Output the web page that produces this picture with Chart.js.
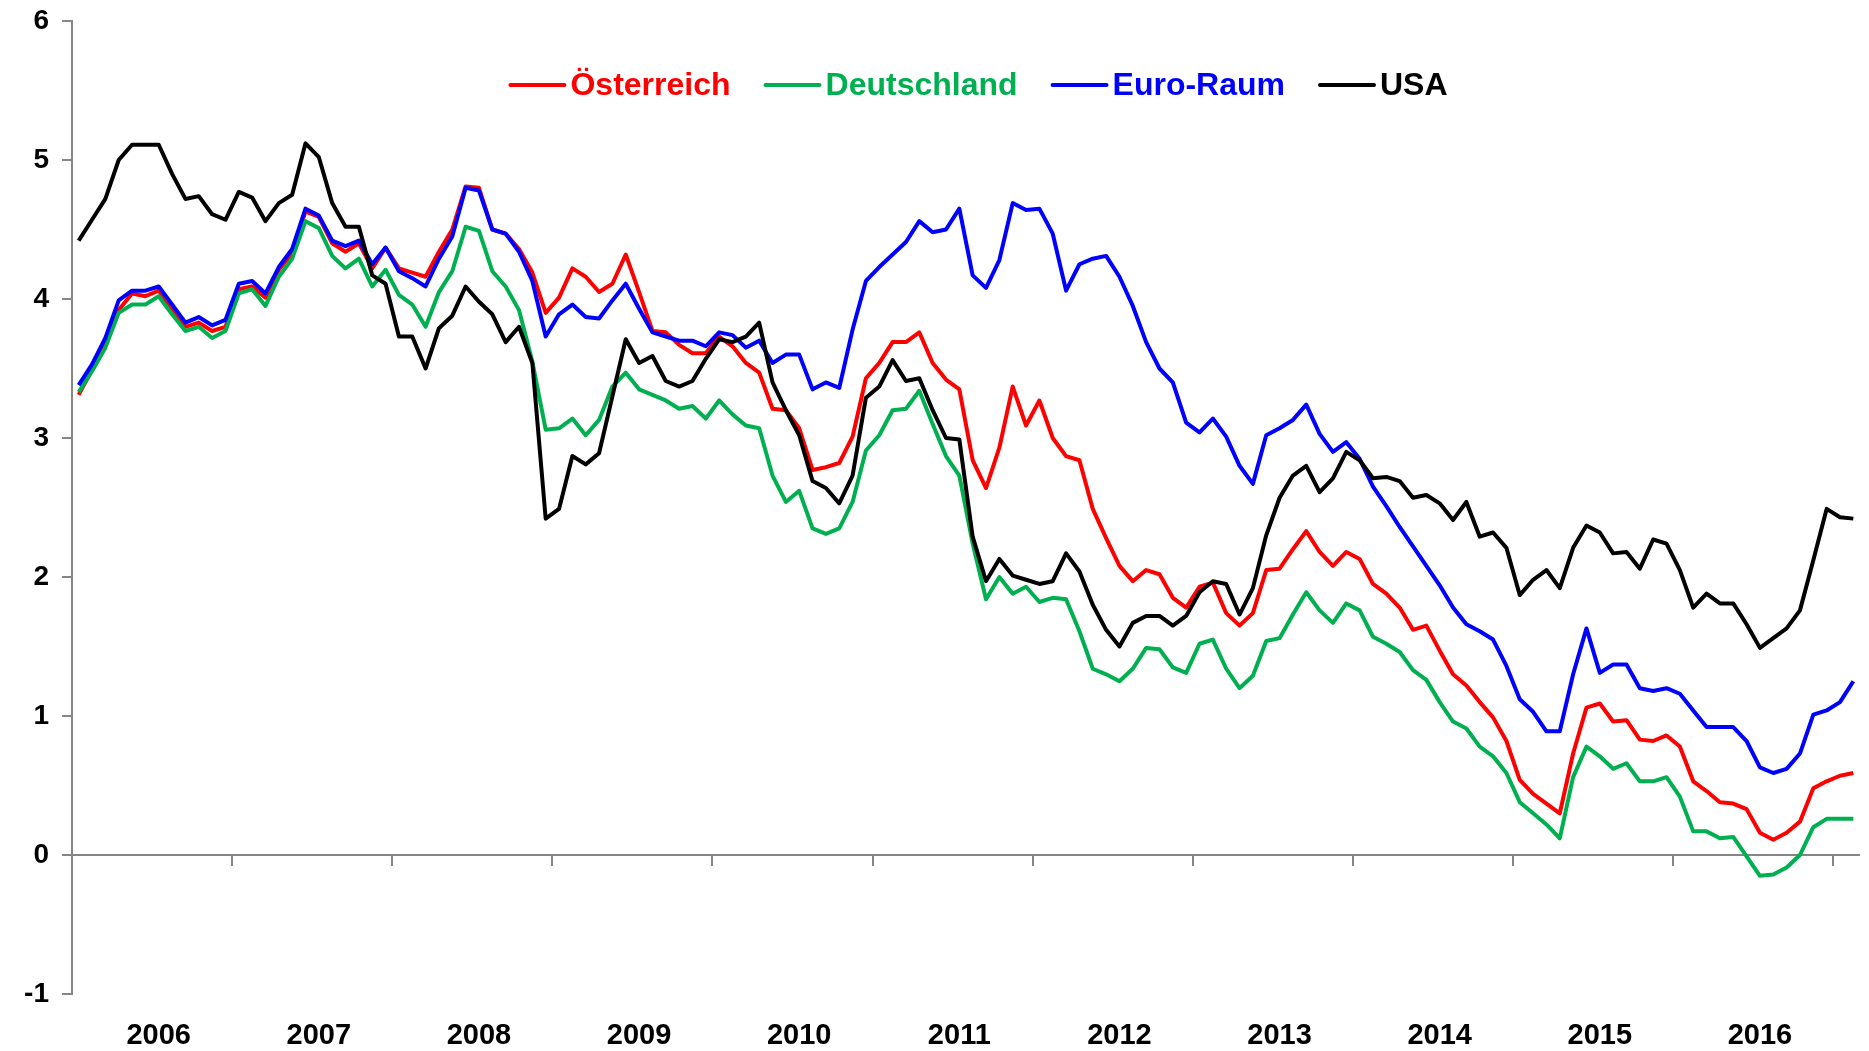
<!DOCTYPE html>
<html>
<head>
<meta charset="utf-8">
<script src="https://cdn.jsdelivr.net/npm/chart.js@4.4.1/dist/chart.umd.min.js"></script>
<style>
  html, body { margin: 0; padding: 0; background: #fff; }
</style>
</head>
<body>
<canvas id="myChart" width="1869" height="1051"></canvas>
<script>
// monthly values, Jan 2006 - Feb 2017
const YEARS = ['2006', '2007', '2008', '2009', '2010', '2011', '2012', '2013', '2014', '2015', '2016', '2017'];
const MONTHS_2017 = 2;

const AUSTRIA = [
    3.31, 3.49, 3.68, 3.92, 4.04, 4.02, 4.06, 3.93, 3.80, 3.83, 3.77, 3.80,
    4.07, 4.09, 4.01, 4.21, 4.33, 4.63, 4.59, 4.40, 4.34, 4.40, 4.22, 4.37,
    4.22, 4.19, 4.16, 4.34, 4.50, 4.81, 4.80, 4.50, 4.47, 4.36, 4.19, 3.90,
    4.01, 4.22, 4.16, 4.05, 4.11, 4.32, 4.05, 3.77, 3.76, 3.67, 3.61, 3.61,
    3.73, 3.66, 3.54, 3.47, 3.21, 3.20, 3.07, 2.77, 2.79, 2.82, 3.01, 3.43,
    3.54, 3.69, 3.69, 3.76, 3.54, 3.42, 3.35, 2.84, 2.64, 2.93, 3.37, 3.09,
    3.27, 3.00, 2.87, 2.84, 2.49, 2.28, 2.08, 1.97, 2.05, 2.02, 1.85, 1.78,
    1.93, 1.96, 1.74, 1.65, 1.74, 2.05, 2.06, 2.20, 2.33, 2.18, 2.08, 2.18,
    2.13, 1.95, 1.88, 1.78, 1.62, 1.65, 1.47, 1.30, 1.22, 1.10, 0.99, 0.82,
    0.54, 0.44, 0.37, 0.30, 0.73, 1.06, 1.09, 0.96, 0.97, 0.83, 0.82, 0.86,
    0.78, 0.53, 0.46, 0.38, 0.37, 0.33, 0.16, 0.11, 0.16, 0.24, 0.48, 0.53,
    0.57, 0.59
];
const GERMANY = [
    3.33, 3.48, 3.65, 3.90, 3.96, 3.96, 4.02, 3.89, 3.77, 3.80, 3.72, 3.77,
    4.04, 4.07, 3.95, 4.16, 4.29, 4.56, 4.51, 4.31, 4.22, 4.29, 4.09, 4.21,
    4.03, 3.96, 3.80, 4.05, 4.20, 4.52, 4.49, 4.20, 4.09, 3.92, 3.55, 3.06,
    3.07, 3.14, 3.02, 3.13, 3.37, 3.47, 3.35, 3.31, 3.27, 3.21, 3.23, 3.14,
    3.27, 3.17, 3.09, 3.07, 2.73, 2.54, 2.62, 2.35, 2.31, 2.35, 2.54, 2.91,
    3.02, 3.20, 3.21, 3.34, 3.10, 2.87, 2.73, 2.24, 1.84, 2.00, 1.88, 1.93,
    1.82, 1.85, 1.84, 1.61, 1.34, 1.30, 1.25, 1.34, 1.49, 1.48, 1.35, 1.31,
    1.52, 1.55, 1.34, 1.20, 1.29, 1.54, 1.56, 1.73, 1.89, 1.76, 1.67, 1.81,
    1.76, 1.57, 1.52, 1.46, 1.33, 1.26, 1.10, 0.96, 0.91, 0.78, 0.71, 0.59,
    0.38, 0.30, 0.22, 0.12, 0.56, 0.78, 0.71, 0.62, 0.66, 0.53, 0.53, 0.56,
    0.42, 0.17, 0.17, 0.12, 0.13, -0.01, -0.15, -0.14, -0.09, 0.00, 0.20, 0.26,
    0.26, 0.26
];
const EURO_AREA = [
    3.38, 3.53, 3.72, 3.99, 4.06, 4.06, 4.09, 3.96, 3.83, 3.87, 3.81, 3.85,
    4.11, 4.13, 4.04, 4.23, 4.36, 4.65, 4.60, 4.42, 4.38, 4.42, 4.25, 4.37,
    4.20, 4.15, 4.09, 4.29, 4.45, 4.80, 4.78, 4.50, 4.47, 4.34, 4.13, 3.73,
    3.89, 3.96, 3.87, 3.86, 3.99, 4.11, 3.93, 3.76, 3.73, 3.70, 3.70, 3.66,
    3.76, 3.74, 3.65, 3.70, 3.54, 3.60, 3.60, 3.35, 3.40, 3.36, 3.78, 4.13,
    4.23, 4.32, 4.41, 4.56, 4.48, 4.50, 4.65, 4.17, 4.08, 4.28, 4.69, 4.64,
    4.65, 4.47, 4.06, 4.25, 4.29, 4.31, 4.16, 3.95, 3.69, 3.50, 3.40, 3.11,
    3.04, 3.14, 3.01, 2.80, 2.67, 3.02, 3.07, 3.13, 3.24, 3.03, 2.90, 2.97,
    2.85, 2.65, 2.51, 2.36, 2.22, 2.08, 1.94, 1.78, 1.66, 1.61, 1.55, 1.36,
    1.12, 1.03, 0.89, 0.89, 1.30, 1.63, 1.31, 1.37, 1.37, 1.20, 1.18, 1.20,
    1.16, 1.04, 0.92, 0.92, 0.92, 0.82, 0.63, 0.59, 0.62, 0.73, 1.01, 1.04,
    1.10, 1.25
];
const USA = [
    4.42, 4.57, 4.72, 5.00, 5.11, 5.11, 5.11, 4.90, 4.72, 4.74, 4.61, 4.57,
    4.77, 4.73, 4.56, 4.69, 4.75, 5.12, 5.02, 4.69, 4.52, 4.52, 4.17, 4.11,
    3.73, 3.73, 3.50, 3.79, 3.88, 4.09, 3.98, 3.89, 3.69, 3.80, 3.54, 2.42,
    2.49, 2.87, 2.81, 2.89, 3.30, 3.71, 3.54, 3.59, 3.41, 3.37, 3.41, 3.57,
    3.71, 3.69, 3.73, 3.83, 3.40, 3.20, 3.02, 2.69, 2.64, 2.53, 2.73, 3.29,
    3.37, 3.56, 3.41, 3.43, 3.20, 3.00, 2.99, 2.29, 1.97, 2.13, 2.01, 1.98,
    1.95, 1.97, 2.17, 2.04, 1.80, 1.62, 1.50, 1.67, 1.72, 1.72, 1.65, 1.72,
    1.89, 1.97, 1.95, 1.73, 1.92, 2.30, 2.57, 2.73, 2.80, 2.61, 2.71, 2.90,
    2.84, 2.71, 2.72, 2.69, 2.57, 2.59, 2.53, 2.41, 2.54, 2.29, 2.32, 2.21,
    1.87, 1.98, 2.05, 1.92, 2.21, 2.37, 2.32, 2.17, 2.18, 2.06, 2.27, 2.24,
    2.05, 1.78, 1.88, 1.81, 1.81, 1.66, 1.49, 1.56, 1.63, 1.76, 2.12, 2.49,
    2.43, 2.42
];

const SERIES_NAMES  = ['Österreich', 'Deutschland', 'Euro-Raum', 'USA'];
const SERIES_COLORS = ['#ff0000', '#00b050', '#0000ff', '#000000'];

const Y_MIN = -1, Y_MAX = 6, Y_STEP = 1;

const AXIS_COLOR = '#868686';
const FONT = '"Liberation Sans", Arial, sans-serif';

// one category per month
const labels = [];
YEARS.forEach((y, yi) => {
    const n = yi === YEARS.length - 1 ? MONTHS_2017 : 12;
    for (let m = 1; m <= n; m++) labels.push(y + '-' + String(m).padStart(2, '0'));
});

// zero line with year tick marks (axis crosses at 0, labels sit at the bottom)
const zeroAxis = {
    id: 'zeroAxis',
    beforeDatasetsDraw(chart) {
        const { ctx, chartArea, scales: { x, y } } = chart;
        const y0 = Math.round(y.getPixelForValue(0));
        ctx.save();
        ctx.strokeStyle = AXIS_COLOR;
        ctx.lineWidth = 2;
        ctx.beginPath();
        ctx.moveTo(chartArea.left, y0);
        ctx.lineTo(chartArea.right, y0);
        for (let k = 12; k < labels.length; k += 12) {
            const xp = Math.round((x.getPixelForValue(k - 1) + x.getPixelForValue(k)) / 2);
            ctx.moveTo(xp, y0);
            ctx.lineTo(xp, y0 + 11);
        }
        ctx.stroke();
        ctx.restore();
    }
};

// legend drawn inside the plot, line sample + coloured text
const innerLegend = {
    id: 'innerLegend',
    afterDraw(chart) {
        const { ctx } = chart;
        const lineLen = 54, gapLine = 6, gapItem = 35;
        const cx = 979, cy = 85;
        ctx.save();
        ctx.font = 'bold 32px ' + FONT;
        ctx.textBaseline = 'middle';
        const widths = SERIES_NAMES.map(n => ctx.measureText(n).width);
        const total = widths.reduce((a, w) => a + lineLen + gapLine + w, 0) + gapItem * (SERIES_NAMES.length - 1);
        let xp = cx - total / 2;
        SERIES_NAMES.forEach((name, i) => {
            ctx.strokeStyle = SERIES_COLORS[i];
            ctx.lineWidth = 4;
            ctx.lineCap = 'round';
            ctx.beginPath();
            ctx.moveTo(xp, cy);
            ctx.lineTo(xp + lineLen, cy);
            ctx.stroke();
            xp += lineLen + gapLine;
            ctx.fillStyle = SERIES_COLORS[i];
            ctx.fillText(name, xp, cy + 1);
            xp += widths[i] + gapItem;
        });
        ctx.restore();
    }
};

const seriesData = [AUSTRIA, GERMANY, EURO_AREA, USA];

new Chart(document.getElementById('myChart'), {
    type: 'line',
    data: {
        labels: labels,
        datasets: seriesData.map((d, i) => ({
            label: SERIES_NAMES[i],
            data: d,
            borderColor: SERIES_COLORS[i],
            backgroundColor: SERIES_COLORS[i],
            borderWidth: 4,
            pointRadius: 0,
            tension: 0,
            fill: false,
            borderJoinStyle: 'round',
            order: seriesData.length - i
        }))
    },
    options: {
        responsive: false,
        animation: false,
        layout: { padding: { top: 21, right: 9, left: 0, bottom: 0 } },
        plugins: {
            legend: { display: false },
            tooltip: { enabled: false }
        },
        scales: {
            x: {
                type: 'category',
                offset: true,
                grid: { display: false, drawTicks: false },
                border: { display: false },
                ticks: {
                    autoSkip: false,
                    maxRotation: 0,
                    minRotation: 0,
                    padding: 25,
                    color: '#000',
                    font: { family: FONT, size: 29, weight: 'bold' },
                    callback: (v, i) => (i % 12 === 6 ? YEARS[Math.floor(i / 12)] : '')
                },
                afterFit: s => {
                    s.height = 57;
                    s.paddingLeft = 0;
                    s.paddingRight = 0;
                }
            },
            y: {
                min: Y_MIN,
                max: Y_MAX,
                ticks: {
                    stepSize: Y_STEP,
                    padding: 13,
                    color: '#000',
                    font: { family: FONT, size: 28, weight: 'bold' }
                },
                grid: { drawOnChartArea: false, tickLength: 10, color: AXIS_COLOR, lineWidth: 2 },
                border: { color: AXIS_COLOR, width: 2 },
                afterFit: s => {
                    s.width = 72;
                    s.paddingTop = 0;
                    s.paddingBottom = 0;
                }
            }
        }
    },
    plugins: [zeroAxis, innerLegend]
});
</script>
</body>
</html>
